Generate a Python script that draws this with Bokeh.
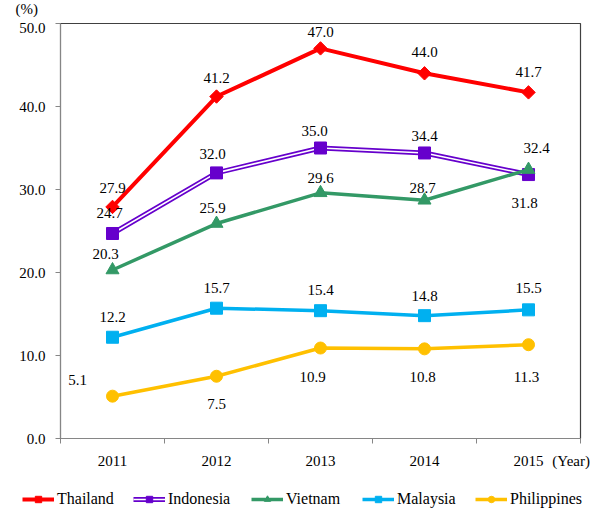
from bokeh.plotting import figure
from bokeh.layouts import column
from bokeh.models import (FixedTicker, Legend, LegendItem, Range1d, ColumnDataSource)
from bokeh.core.properties import value
from bokeh.embed import file_html
from bokeh.resources import INLINE
import numpy as np

years = ["2011", "2012", "2013", "2014", "2015"]
thailand = [27.9, 41.2, 47.0, 44.0, 41.7]
indonesia = [24.7, 32.0, 35.0, 34.4, 31.8]
vietnam = [20.3, 25.9, 29.6, 28.7, 32.4]
malaysia = [12.2, 15.7, 15.4, 14.8, 15.5]
philippines = [5.1, 7.5, 10.9, 10.8, 11.3]
y_ticks = [0, 10, 20, 30, 40, 50]
x_unit = "(Year)"
y_unit = "(%)"

# label offsets in pixels (dx, dy up)
offs = {
    "Thailand": [(0, 19), (0, 19), (0, 16), (0, 21), (0, 20)],
    "Indonesia": [(-3, 20), (-4, 19), (-6, 17), (0, 17), (-4, -28)],
    "Vietnam": [(-7, 16), (-4, 16), (0, 15), (-2, 12), (8, 22)],
    "Malaysia": [(0, 20), (0, 20), (0, 21), (0, 20), (0, 22)],
    "Philippines": [(-35, 16), (0, -28), (-8, -29), (-2, -28), (-2, -32)],
}
legend_x = [22, 133, 251, 362, 475]

FONT = "Liberation Serif"
xs = np.arange(len(years)) + 0.5
x_unit_pos = len(years) - 0.09

p = figure(width=593, height=480, output_backend="svg", toolbar_location=None,
           x_range=Range1d(0, len(years)), y_range=Range1d(0, 50),
           min_border_left=60, min_border_right=13, min_border_top=23, min_border_bottom=42)
p.xgrid.grid_line_color = None
p.ygrid.grid_line_color = None
p.outline_line_color = "#404040"
p.outline_line_width = 1.2
p.background_fill_color = "white"

# axes
p.xaxis.ticker = FixedTicker(ticks=list(xs) + [x_unit_pos],
                             minor_ticks=list(range(len(years) + 1)))
ov = {float(x): y for x, y in zip(xs, years)}
ov[x_unit_pos] = x_unit
p.xaxis.major_label_overrides = ov
p.xaxis.major_tick_line_color = None
p.xaxis.major_tick_out = 0
p.xaxis.major_tick_in = 0
p.xaxis.minor_tick_out = 5
p.xaxis.minor_tick_in = 0
p.xaxis.minor_tick_line_color = "#868686"
p.xaxis.major_label_standoff = 9
p.yaxis.ticker = FixedTicker(ticks=y_ticks)
yov = {t: f"{t:.1f}" for t in y_ticks}
yov[y_ticks[-1]] = f"{y_unit}\u00a0\u00a0\n{y_ticks[-1]:.1f}\n\u00a0"
p.yaxis.major_label_overrides = yov
p.yaxis.minor_tick_line_color = None
p.yaxis.major_tick_out = 5
p.yaxis.major_tick_in = 0
p.yaxis.major_tick_line_color = "#868686"
p.yaxis.major_label_standoff = 10
for ax in (p.xaxis, p.yaxis):
    ax.axis_line_color = "#868686"
    ax.major_label_text_font = FONT
    ax.major_label_text_font_size = "15px"
    ax.major_label_text_color = "black"

# legend strip below the chart
q = figure(width=593, height=30, output_backend="svg", toolbar_location=None,
           x_range=Range1d(100, 101), y_range=Range1d(100, 101),
           x_axis_location=None, y_axis_location=None,
           min_border_left=0, min_border_right=0, min_border_top=0, min_border_bottom=0)
q.frame_align = False
q.xgrid.grid_line_color = None
q.ygrid.grid_line_color = None
q.outline_line_color = None

series = [
    ("Thailand", thailand, "#FF0000", "diamond"),
    ("Indonesia", indonesia, "#6600CC", "square"),
    ("Vietnam", vietnam, "#339966", "triangle"),
    ("Malaysia", malaysia, "#00B0F0", "square"),
    ("Philippines", philippines, "#FFC000", "circle"),
]

for i, (name, vals, col, mk) in enumerate(series):
    for fig in (p, q):
        rs = []
        if name == "Indonesia":
            rs.append(fig.line(xs, vals, line_color=col, line_width=5))
            rs.append(fig.line(xs, vals, line_color="white", line_width=1.6))
        elif name == "Thailand":
            rs.append(fig.line(xs, vals, line_color=col, line_width=4))
        else:
            rs.append(fig.line(xs, vals, line_color=col, line_width=3.5))
        if mk == "diamond":
            rs.append(fig.scatter(xs, vals, marker="square", angle=np.pi / 4, size=9.5,
                                  fill_color=col, line_color=col))
        else:
            size = {"square": 12, "triangle": 13, "circle": 12}[mk]
            rs.append(fig.scatter(xs, vals, marker=mk, size=size, fill_color=col, line_color=col))
    lg = Legend(items=[LegendItem(label=name, renderers=rs)], orientation="horizontal",
                location=(legend_x[i], 2),
                glyph_width=32, glyph_height=16, label_height=16, label_standoff=3,
                padding=0, margin=0, border_line_color=None, background_fill_alpha=0,
                label_text_font=FONT, label_text_font_size="16px", label_text_color="black")
    q.add_layout(lg, "center")
    o = offs[name]
    src = ColumnDataSource(dict(x=xs, y=vals, t=[f"{v:.1f}" for v in vals],
                                dx=[a for a, b in o], dy=[-b for a, b in o]))
    p.text(x="x", y="y", text="t", x_offset="dx", y_offset="dy", source=src,
           text_font=value(FONT), text_font_size="15px", text_color="black",
           text_align="center", text_baseline="middle")

layout = column(p, q, spacing=0)
open("out.html", "w").write(file_html(layout, INLINE))
